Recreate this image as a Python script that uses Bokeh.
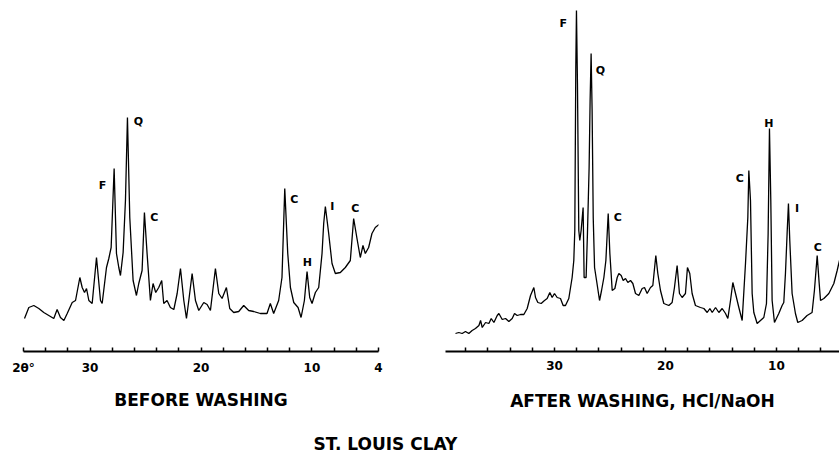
from bokeh.plotting import figure
from bokeh.layouts import column, row
from bokeh.models import Range1d, FixedTicker, ColumnDataSource
from bokeh.core.properties import value
from bokeh.embed import file_html
from bokeh.resources import INLINE

# ---------------- data: BEFORE WASHING (2-theta, relative intensity) -------------
before_2theta = [35.91, 35.52, 35.07, 34.62, 34.17, 33.57, 33.27, 32.97, 32.67, 32.36,
                 32.06, 31.61, 31.31, 30.92, 30.71, 30.50, 30.32, 30.11, 29.81, 29.42,
                 29.06, 28.91, 28.52, 28.31, 28.10, 27.83, 27.62, 27.41, 27.26, 27.02,
                 26.81, 26.63, 26.42, 26.12, 25.82, 25.61, 25.31, 25.10, 24.86, 24.56,
                 24.32, 24.08, 23.81, 23.54, 23.36, 23.06, 22.76, 22.45, 22.15, 21.85,
                 21.55, 21.31, 21.10, 20.80, 20.50, 20.20, 19.75, 19.45, 19.15, 18.70,
                 18.40, 18.10, 17.71, 17.41, 17.05, 16.60, 16.15, 15.70, 15.25, 14.65,
                 14.05, 13.75, 13.45, 13.00, 12.70, 12.45, 12.18, 11.94, 11.64, 11.25,
                 10.98, 10.68, 10.44, 10.20, 9.99, 9.69, 9.39, 9.09, 8.94, 8.79,
                 8.49, 8.19, 7.89, 7.44, 6.99, 6.54, 6.24, 5.94, 5.64, 5.40,
                 5.19, 4.89, 4.59, 4.29, 3.95]
before_int = [33, 44, 46, 43, 39, 35, 33, 42, 34, 31,
              38, 49, 51, 74, 64, 59, 63, 51, 48, 94,
              51, 48, 84, 93, 104, 183, 98, 84, 76, 99,
              151, 234, 134, 71, 56, 68, 81, 139, 98, 51,
              68, 59, 64, 71, 48, 51, 44, 42, 58, 83,
              51, 33, 51, 78, 51, 41, 49, 47, 41, 83,
              58, 53, 64, 43, 39, 40, 46, 41, 40, 38,
              38, 48, 38, 51, 74, 163, 98, 64, 49, 44,
              34, 51, 80, 54, 48, 59, 64, 98, 128, 145,
              118, 88, 78, 79, 84, 91, 133, 113, 94, 106,
              98, 104, 118, 124, 127]

# ---------------- data: AFTER WASHING, HCl/NaOH --------------------------------
after_2theta = [38.92, 38.62, 38.32, 38.02, 37.72, 37.42, 37.12, 36.81, 36.66, 36.51,
                36.21, 35.91, 35.70, 35.46, 35.16, 35.01, 34.71, 34.41, 34.11, 33.81,
                33.60, 33.36, 33.06, 32.76, 32.46, 32.16, 31.86, 31.71, 31.50, 31.20,
                30.90, 30.66, 30.42, 30.21, 30.00, 29.76, 29.46, 29.22, 29.01, 28.71,
                28.41, 28.26, 28.17, 28.08, 28.02, 27.93, 27.81, 27.72, 27.60, 27.42,
                27.33, 27.15, 27.03, 26.88, 26.79, 26.70, 26.61, 26.51, 26.39, 26.21,
                25.94, 25.76, 25.55, 25.37, 25.16, 25.01, 24.80, 24.56, 24.35, 24.20,
                23.99, 23.81, 23.60, 23.39, 23.15, 22.94, 22.70, 22.40, 22.10, 21.89,
                21.65, 21.35, 21.14, 20.87, 20.69, 20.45, 20.15, 19.70, 19.40, 19.19,
                18.95, 18.74, 18.50, 18.20, 18.02, 17.81, 17.60, 17.30, 16.85, 16.54,
                16.24, 16.00, 15.79, 15.49, 15.19, 14.89, 14.59, 14.38, 14.14, 13.93,
                13.69, 13.39, 13.09, 12.79, 12.58, 12.49, 12.34, 12.19, 12.04, 11.74,
                11.44, 11.14, 10.90, 10.75, 10.63, 10.51, 10.39, 10.18, 9.79, 9.49,
                9.34, 9.19, 9.04, 8.92, 8.80, 8.59, 8.29, 8.08, 7.69, 7.24,
                6.79, 6.58, 6.33, 6.15, 6.03, 5.73, 5.28, 4.83, 4.53, 4.32, 4.10]
after_int = [18, 19, 18, 20, 18, 21, 23, 26, 31, 24,
             29, 28, 33, 29, 36, 38, 32, 33, 30, 33,
             38, 36, 37, 37, 43, 56, 64, 54, 49, 48,
             51, 53, 59, 54, 58, 54, 53, 46, 46, 53,
             74, 91, 121, 284, 341, 268, 121, 111, 121, 144,
             74, 74, 118, 184, 251, 298, 241, 134, 84, 71,
             51, 61, 74, 91, 138, 98, 61, 63, 74, 78,
             76, 71, 73, 69, 71, 68, 58, 56, 63, 64,
             58, 64, 66, 96, 78, 61, 48, 46, 49, 64,
             86, 58, 54, 58, 84, 78, 58, 46, 44, 43,
             39, 43, 39, 44, 39, 43, 38, 33, 51, 69,
             58, 44, 31, 88, 134, 181, 151, 58, 39, 28,
             31, 34, 48, 118, 223, 151, 51, 29, 38, 46,
             49, 78, 118, 148, 111, 58, 38, 29, 31, 36,
             39, 61, 96, 68, 51, 53, 58, 68, 81, 91, 100]

# ---------------- peak labels ----------------------------------------------------
before_lbl = ["F", "Q", "C", "C", "H", "I", "C"]
before_lbl_x = [28.88, 25.64, 24.20, 11.59, 10.41, 8.16, 6.10]
before_lbl_y = [166, 230, 134, 152, 89, 145, 143]

after_lbl = ["F", "Q", "C", "C", "H", "I", "C"]
after_lbl_x = [29.22, 25.86, 24.30, 13.31, 10.69, 8.14, 6.28]
after_lbl_y = [328, 281, 134, 173, 228, 143, 104]

left_ticks = [36, 34, 32, 30, 28, 26, 24, 22, 20, 18, 16, 14, 12, 10, 8, 6, 4]
left_tick_labels = {36: "2θ°", 30: "30", 20: "20", 10: "10", 4: "4"}
right_ticks = [38, 36, 34, 32, 30, 28, 26, 24, 22, 20, 18, 16, 14, 12, 10, 8, 6, 4]
right_tick_labels = {30: "30", 20: "20", 10: "10", 4: "4"}

FONT = "DejaVu Sans"


def panel(xs, ys, lx, ly, lt, xr, ticks, tick_labels, title, width, bl, br, title_standoff):
    p = figure(width=width, height=425, output_backend="svg", toolbar_location=None,
               x_range=xr, y_range=Range1d(0, 343), y_axis_location=None,
               min_border_left=bl, min_border_right=br, min_border_top=8,
               min_border_bottom=74)
    p.outline_line_color = None
    p.grid.visible = False
    p.line(xs, ys, line_color="black", line_width=1.3)
    src = ColumnDataSource(dict(x=lx, y=ly, t=lt))
    p.text(x="x", y="y", text="t", source=src, text_align="center",
           text_baseline="middle", text_font=value(FONT), text_font_style="bold",
           text_font_size="11px", text_color="black")
    ax = p.xaxis[0]
    ax.ticker = FixedTicker(ticks=ticks, minor_ticks=[])
    ax.major_label_overrides = {t: tick_labels.get(t, "") for t in ticks}
    ax.axis_line_width = 2
    ax.axis_line_color = "black"
    ax.major_tick_in = 4
    ax.major_tick_out = 0
    ax.major_tick_line_width = 1.5
    ax.minor_tick_line_color = None
    ax.major_label_standoff = 9
    ax.major_label_text_font = FONT
    ax.major_label_text_font_style = "bold"
    ax.major_label_text_font_size = "12px"
    ax.major_label_text_color = "black"
    ax.axis_label = title
    ax.axis_label_standoff = title_standoff
    ax.axis_label_text_font = FONT
    ax.axis_label_text_font_style = "bold"
    ax.axis_label_text_font_size = "17px"
    ax.axis_label_text_color = "black"
    return p


p1 = panel(before_2theta, before_int, before_lbl_x, before_lbl_y, before_lbl,
           Range1d(36, 4), left_ticks, left_tick_labels, "BEFORE WASHING",
           420, 23, 42, 12)
p2 = panel(after_2theta, after_int, after_lbl_x, after_lbl_y, after_lbl,
           Range1d(39.82, 4.32), right_ticks, right_tick_labels,
           "AFTER WASHING, HCl/NaOH", 419, 25, 0, 18)

cap = figure(width=839, height=29, output_backend="svg", toolbar_location=None,
             x_range=Range1d(0, 839), y_range=Range1d(0, 29),
             x_axis_location=None, y_axis_location=None,
             min_border=0)
cap.outline_line_color = None
cap.grid.visible = False
cap.text(x=[385], y=[11], text=["ST. LOUIS CLAY"], text_align="center",
         text_baseline="middle", text_font=value(FONT), text_font_style="bold",
         text_font_size="17px", text_color="black")

layout = column(row(p1, p2), cap)
open("out.html", "w").write(file_html(layout, INLINE))
